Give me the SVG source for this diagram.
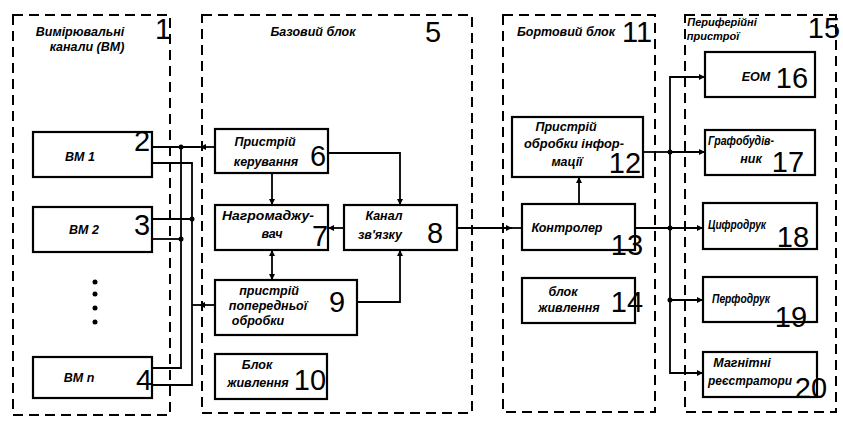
<svg xmlns="http://www.w3.org/2000/svg" width="843" height="429" viewBox="0 0 843 429">
<defs>
<marker id="ah" viewBox="0 0 10 10" refX="10" refY="5" markerWidth="9" markerHeight="6" markerUnits="userSpaceOnUse" orient="auto-start-reverse">
<path d="M0,0 L10,5 L0,10 Z" fill="#000"/>
</marker>
</defs>
<style>
.grp{fill:none;stroke:#000;stroke-width:2;stroke-dasharray:10 6}
.box{fill:#fff;stroke:#000;stroke-width:2.2}
.ln{fill:none;stroke:#000;stroke-width:1.8}
.dot{fill:#000}
.t{font-family:"Liberation Sans",Arial,sans-serif;font-style:italic;font-weight:bold;font-size:12.5px;fill:#000;text-anchor:middle}
.ts{font-size:11px}
.n{font-family:"Liberation Sans",Arial,sans-serif;font-size:29px;fill:#000;text-anchor:middle}
</style>
<rect width="843" height="429" fill="#fff"/>

<g id="group1">
<rect class="grp" x="13" y="15" width="157" height="400"/>
<text class="t" x="80" y="36">Вимірювальні</text>
<text class="t" x="87" y="51">канали (ВМ)</text>
<text class="n" x="163" y="39">1</text>
</g>
<g id="group5">
<rect class="grp" x="202" y="15" width="270" height="398"/>
<text class="t" x="313" y="36">Базовий блок</text>
<text class="n" x="433" y="42">5</text>
</g>
<g id="group11">
<rect class="grp" x="503" y="15" width="152" height="397"/>
<text class="t" x="566" y="36">Бортовий блок</text>
<text class="n" x="637" y="42">11</text>
</g>
<g id="group15">
<rect class="grp" x="685" y="15" width="151" height="397"/>
<text class="t ts" x="722" y="26">Периферійні</text>
<text class="t ts" x="713" y="40">пристрої</text>
<text class="n" x="824" y="38">15</text>
</g>

<g id="connectors">
<path class="ln" d="M215,147 H200" marker-end="url(#ah)"/>
<path class="ln" d="M200,147 H152"/>
<path class="ln" d="M152,163 H192 V385 H152"/>
<path class="ln" d="M181,147 V368 H152"/>
<path class="ln" d="M152,219 H192"/>
<path class="ln" d="M152,239 H181"/>
<path class="ln" d="M215,305 H199" marker-end="url(#ah)"/>
<path class="ln" d="M199,305 H192"/>
<circle class="dot" cx="181" cy="147" r="2.5"/>
<circle class="dot" cx="192" cy="219" r="2.5"/>
<circle class="dot" cx="181" cy="239" r="2.5"/>
<path class="ln" d="M272,173 V205" marker-end="url(#ah)"/>
<path class="ln" d="M328,153 H400 V205" marker-end="url(#ah)"/>
<path class="ln" d="M344,228 H328" marker-end="url(#ah)"/>
<path class="ln" d="M272,250 V280" marker-start="url(#ah)" marker-end="url(#ah)"/>
<path class="ln" d="M357,302 H400 V250" marker-end="url(#ah)"/>
<path class="ln" d="M457,228 H512" marker-end="url(#ah)"/>
<path class="ln" d="M512,228 H522"/>
<path class="ln" d="M579,204 V177" marker-end="url(#ah)"/>
<path class="ln" d="M643,152 H670"/>
<path class="ln" d="M635,228 H670"/>
<path class="ln" d="M705,77 H670 V373 H703" marker-start="url(#ah)" marker-end="url(#ah)"/>
<path class="ln" d="M670,152 H705" marker-end="url(#ah)"/>
<path class="ln" d="M670,228 H703" marker-end="url(#ah)"/>
<path class="ln" d="M670,300 H703" marker-end="url(#ah)"/>
<circle class="dot" cx="670" cy="152" r="2.5"/>
<circle class="dot" cx="670" cy="228" r="2.5"/>
<circle class="dot" cx="670" cy="300" r="2.5"/>
</g>

<g id="vm1">
<rect class="box" x="33" y="132" width="119" height="45"/>
<text class="t" x="80" y="161">ВМ 1</text>
<text class="n" x="142" y="151">2</text>
</g>
<g id="vm2">
<rect class="box" x="33" y="207" width="119" height="45"/>
<text class="t" x="84" y="234">ВМ 2</text>
<text class="n" x="142" y="235">3</text>
</g>
<g id="dots">
<circle class="dot" cx="95" cy="282" r="2.5"/>
<circle class="dot" cx="95" cy="294" r="2.5"/>
<circle class="dot" cx="95" cy="308" r="2.5"/>
<circle class="dot" cx="95" cy="322" r="2.5"/>
</g>
<g id="vmn">
<rect class="box" x="33" y="357" width="119" height="41"/>
<text class="t" x="79" y="382">ВМ n</text>
<text class="n" x="144" y="390">4</text>
</g>

<g id="node6">
<rect class="box" x="215" y="129" width="113" height="44"/>
<text class="t" x="265" y="146">Пристрій</text>
<text class="t" x="266" y="166">керування</text>
<text class="n" x="318" y="166">6</text>
</g>
<g id="node7">
<rect class="box" x="215" y="205" width="113" height="45"/>
<text class="t" x="268" y="220" textLength="92" lengthAdjust="spacingAndGlyphs">Нагромаджу-</text>
<text class="t" x="272" y="238">вач</text>
<text class="n" x="320" y="246">7</text>
</g>
<g id="node8">
<rect class="box" x="344" y="205" width="113" height="45"/>
<text class="t" x="384" y="220">Канал</text>
<text class="t" x="380" y="239">зв'язку</text>
<text class="n" x="435" y="243">8</text>
</g>
<g id="node9">
<rect class="box" x="215" y="280" width="142" height="55"/>
<text class="t" x="269" y="295">пристрій</text>
<text class="t" x="268" y="310">попередньої</text>
<text class="t" x="258" y="325">обробки</text>
<text class="n" x="337" y="312">9</text>
</g>
<g id="node10">
<rect class="box" x="215" y="354" width="112" height="45"/>
<text class="t" x="257" y="369">Блок</text>
<text class="t" x="258" y="387">живлення</text>
<text class="n" x="310" y="390">10</text>
</g>

<g id="node12">
<rect class="box" x="512" y="117" width="131" height="60"/>
<text class="t" x="566" y="131">Пристрій</text>
<text class="t" x="574" y="148" textLength="100" lengthAdjust="spacingAndGlyphs">обробки інфор-</text>
<text class="t" x="567" y="166">мації</text>
<text class="n" x="625" y="173">12</text>
</g>
<g id="node13">
<rect class="box" x="522" y="204" width="113" height="46"/>
<text class="t" x="567" y="232">Контролер</text>
<text class="n" x="627" y="255">13</text>
</g>
<g id="node14">
<rect class="box" x="522" y="278" width="113" height="45"/>
<text class="t" x="563" y="296">блок</text>
<text class="t" x="569" y="312">живлення</text>
<text class="n" x="627" y="312">14</text>
</g>

<g id="node16">
<rect class="box" x="705" y="52" width="110" height="45"/>
<text class="t" x="756" y="81">ЕОМ</text>
<text class="n" x="792" y="88">16</text>
</g>
<g id="node17">
<rect class="box" x="705" y="130" width="110" height="45"/>
<text class="t" x="741" y="145" textLength="66" lengthAdjust="spacingAndGlyphs">Графобудів-</text>
<text class="t" x="751" y="163">ник</text>
<text class="n" x="788" y="172">17</text>
</g>
<g id="node18">
<rect class="box" x="703" y="203" width="114" height="46"/>
<text class="t" x="737" y="229" textLength="58" lengthAdjust="spacingAndGlyphs">Цифродрук</text>
<text class="n" x="793" y="247">18</text>
</g>
<g id="node19">
<rect class="box" x="703" y="277" width="114" height="45"/>
<text class="t" x="741" y="303" textLength="58" lengthAdjust="spacingAndGlyphs">Перфодрук</text>
<text class="n" x="791" y="327">19</text>
</g>
<g id="node20">
<rect class="box" x="703" y="352" width="114" height="45"/>
<text class="t" x="742" y="367">Магнітні</text>
<text class="t" x="750" y="385" textLength="84" lengthAdjust="spacingAndGlyphs">реєстратори</text>
<text class="n" x="811" y="398">20</text>
</g>
</svg>
